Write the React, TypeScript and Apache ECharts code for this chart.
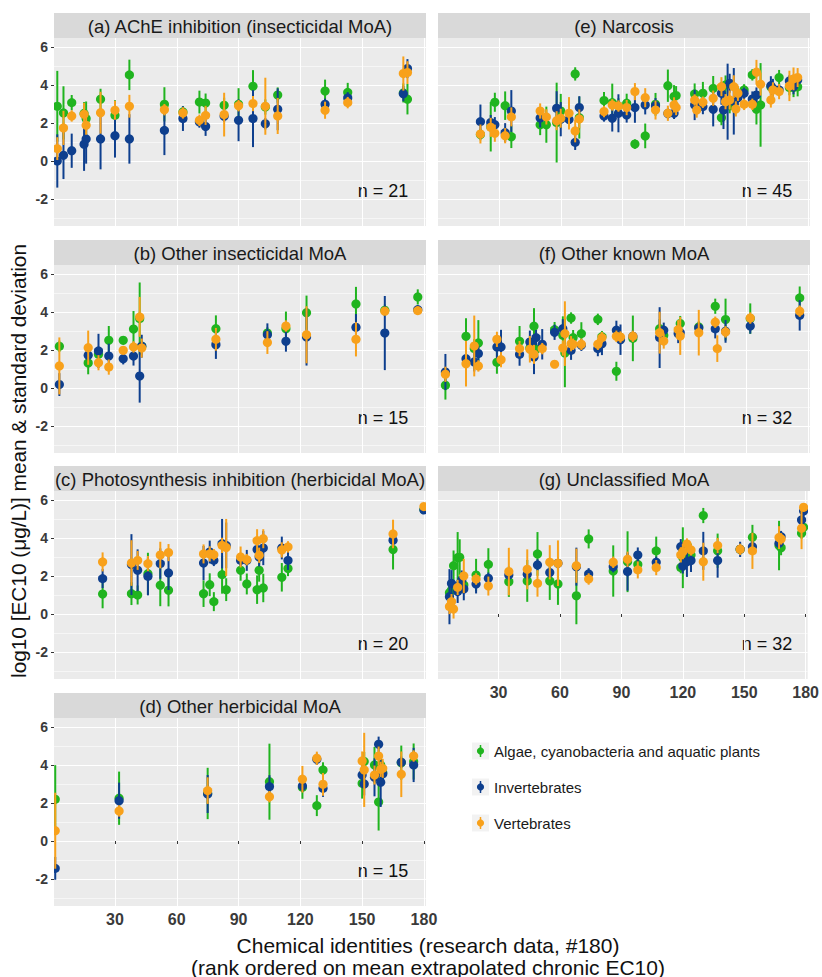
import React, { useEffect, useRef } from "react";
import * as echarts from "echarts";

// ---------------- data ----------------
const panelTitles = [
  "(a) AChE inhibition (insecticidal MoA)",
  "(b) Other insecticidal MoA",
  "(c) Photosynthesis inhibition (herbicidal MoA)",
  "(d) Other herbicidal MoA",
  "(e) Narcosis",
  "(f) Other known MoA",
  "(g) Unclassified MoA",
];
const panelN = [21, 15, 20, 15, 45, 32, 32];
const groupNames = ["Algae, cyanobacteria and aquatic plants", "Invertebrates", "Vertebrates"];

// (a)
const aRank = [2, 5, 9, 15, 16, 23, 30, 37, 54, 63, 71, 74, 83, 90, 97, 103, 109, 132, 143, 170, 172];
const aAlgMean = [2.88, 2.53, 3.07, 2.5, 2.23, 3.25, 2.4, 4.53, 2.98, 2.58, 3.1, 3.05, 2.93, 2.98, 3.93, 2.84, 3.47, 3.68, 3.61, 3.58, 3.25];
const aAlgSd = [1.86, 1.4, 0.4, 0.6, 0.9, 0.55, 0.8, 0.8, 0.9, 0.3, 0.6, 0.5, 0.4, 0.85, 0.85, 0.4, 0.4, 0.6, 0.5, 0.5, 0.8];
const aInvMean = [0.0, 0.3, 0.54, 0.88, 1.16, 1.16, 1.33, 1.16, 1.61, 2.23, 2.05, 1.82, 2.35, 2.14, 2.23, 1.96, 2.72, 2.98, 3.32, 3.54, 4.86];
const aInvSd = [1.4, 1.25, 0.9, 1.4, 1.3, 1.6, 1.15, 1.3, 1.3, 0.65, 0.3, 0.5, 0.3, 1.1, 1.5, 0.3, 1.1, 0.3, 0.3, 0.4, 0.5];
const aVerMean = [0.65, 1.74, 2.37, 2.46, 1.88, 2.54, 2.67, 2.88, 2.7, 2.53, 2.14, 2.4, 2.44, 2.91, 3.02, 2.88, 2.37, 2.67, 3.07, 4.6, 4.65];
const aVerSd = [0.6, 0.9, 0.3, 0.6, 0.5, 1.1, 0.5, 0.6, 0.3, 0.3, 0.3, 0.5, 1.15, 0.3, 0.4, 1.5, 0.95, 0.45, 0.3, 0.9, 0.6];

// (b)
const bRank = [3, 17, 22, 27, 34, 39, 42, 43, 79, 104, 113, 123, 147, 161, 177];
const bAlgMean = [2.19, 1.32, 1.77, 2.51, 2.51, 3.1, 3.65, 2.2, 3.12, 2.89, 3.12, 3.96, 4.42, 4.09, 4.79];
const bAlgSd = [0.3, 0.6, 0.3, 0.75, 0.2, 0.95, 1.9, 0.3, 0.7, 0.3, 0.9, 0.9, 0.9, 0.3, 0.4];
const bInvMean = [0.18, 1.72, 1.95, 1.68, 1.54, 1.68, 0.63, 2.2, 2.28, 2.8, 2.46, 2.68, 3.19, 2.89, 4.12];
const bInvSd = [0.6, 0.3, 0.9, 0.65, 0.3, 0.5, 1.4, 0.6, 0.75, 0.6, 0.55, 1.5, 0.7, 1.95, 0.2];
const bVerMean = [1.16, 2.12, 1.33, 1.1, 1.98, 2.16, 3.74, 2.1, 2.56, 2.39, 3.26, 2.8, 2.56, 4.04, 4.07];
const bVerSd = [1.5, 0.9, 0.4, 0.4, 0.2, 0.3, 1.05, 0.5, 0.6, 0.6, 0.3, 1.5, 0.9, 0.2, 0.2];

// (c)
const cRank = [24, 38, 41, 46, 52, 56, 73, 76, 78, 82, 84, 91, 94, 99, 100, 102, 111, 114, 165, 180];
const cAlgMean = [1.05, 1.07, 1.0, 2.12, 1.51, 1.25, 1.07, 1.54, 0.65, 2.07, 1.28, 2.3, 1.58, 1.28, 2.3, 1.37, 1.93, 2.39, 3.39, 5.5];
const cAlgSd = [0.75, 0.6, 0.5, 1.1, 1.1, 0.85, 0.7, 0.6, 0.5, 1.0, 0.6, 0.55, 0.55, 0.75, 0.6, 0.75, 0.75, 0.4, 1.05, 0.1];
const cInvMean = [1.86, 2.6, 2.3, 1.98, 2.65, 2.16, 2.68, 3.26, 2.82, 3.7, 3.61, 2.82, 2.82, 3.39, 3.0, 3.47, 3.47, 2.82, 3.88, 5.47];
const cInvSd = [0.5, 1.6, 1.1, 1.0, 0.8, 0.9, 0.9, 0.6, 0.3, 1.3, 1.2, 0.3, 0.55, 0.5, 0.5, 0.9, 0.6, 0.5, 0.4, 0.1];
const cVerMean = [2.74, 2.68, 2.82, 2.65, 3.1, 3.23, 3.16, 3.16, 3.12, 3.61, 3.5, 3.0, 2.86, 3.86, 3.09, 3.96, 3.37, 3.53, 4.21, 5.65];
const cVerSd = [0.5, 1.2, 0.5, 0.4, 0.7, 0.45, 0.5, 0.4, 0.3, 0.4, 1.5, 0.55, 0.3, 0.6, 0.4, 0.5, 0.4, 0.3, 0.75, 0.1];

// (d)
const dRank = [1, 32, 75, 105, 121, 128, 131, 150, 151, 156, 158, 159, 160, 169, 175];
const dAlgMean = [2.19, 2.25, 2.5, 3.12, 2.82, 1.86, 3.74, 3.03, 4.18, 4.0, 2.05, 4.0, 3.6, 4.12, 4.18];
const dAlgSd = [1.8, 1.4, 1.35, 2.0, 0.6, 0.55, 0.4, 0.8, 0.5, 0.95, 1.5, 0.6, 0.5, 0.9, 0.95];
const dInvMean = [-1.44, 2.12, 2.47, 2.86, 2.89, 4.3, 2.77, 3.47, 3.0, 3.35, 5.09, 3.09, 3.53, 4.14, 4.0];
const dInvSd = [0.6, 0.95, 1.0, 0.6, 0.3, 0.3, 0.45, 0.6, 0.6, 1.0, 0.4, 1.3, 0.5, 0.3, 0.9];
const dVerMean = [0.54, 1.58, 2.65, 2.33, 3.25, 4.35, 2.98, 4.21, 3.74, 3.47, 4.47, 3.77, 3.82, 3.51, 4.47];
const dVerSd = [2.0, 0.3, 0.7, 0.3, 0.7, 0.35, 0.6, 0.5, 1.95, 0.5, 0.5, 0.4, 0.5, 1.2, 0.3];

// (e)
const eRank = [21, 26, 28, 33, 36, 50, 53, 58, 60, 64, 67, 69, 81, 85, 88, 92, 96, 101, 106, 112, 115, 116, 125, 126, 129, 134, 138, 139, 140, 141, 142, 144, 145, 146, 149, 153, 155, 157, 162, 163, 166, 171, 173, 175];
const eAlgMean = [1.39, 1.8, 3.09, 2.91, 1.28, 1.91, 1.91, 2.02, 2.63, null, 4.58, 2.28, 3.18, 3.07, 2.9, 3.04, 0.89, 1.32, 2.98, 3.96, 3.39, 3.44, 3.53, null, 3.56, 3.82, 2.28, null, 4.0, null, 2.91, null, null, 3.5, 3.74, 4.53, 2.72, 2.95, 3.9, null, 4.39, 3.86, 3.86, 3.9];
const eAlgSd = [0.3, 1.3, 0.5, 0.75, 0.6, 0.55, 0.95, 2.1, 0.9, null, 0.35, 1.1, 0.45, 1.0, 0.4, 0.5, 0.25, 0.65, 0.6, 0.85, 0.6, 0.5, 0.55, null, 0.6, 0.65, 0.4, null, 0.5, null, 0.4, null, null, 0.4, 0.3, 0.3, 0.8, 2.2, 0.3, null, 0.4, 0.4, 0.5, 0.5];
const eInvMean = [2.07, 2.02, 1.91, 1.49, 2.63, 2.26, null, 2.77, 2.2, 2.18, 0.98, 2.81, 2.37, 2.25, 2.51, 2.42, 2.81, 2.95, 2.91, 2.5, 2.51, null, 2.95, null, 2.86, 2.72, 3.56, 2.68, null, 3.12, 4.09, 3.14, null, 3.33, 3.56, 3.26, 3.47, null, 3.96, 3.82, 3.74, 4.21, 3.91, 4.26];
const eInvSd = [0.9, 0.4, 0.4, 0.5, 1.1, 0.5, null, 0.9, 0.9, 0.5, 0.4, 0.6, 0.3, 0.7, 1.0, 0.4, 0.8, 0.5, 0.4, 0.3, 0.3, null, 0.8, null, 0.4, 0.9, 0.6, 1.0, null, 2.0, 0.5, 1.75, null, 0.4, 0.3, 0.4, 0.4, null, 0.5, 0.5, 0.3, 0.3, 0.4, 0.3];
const eVerMean = [1.42, 1.77, 1.46, 1.33, 2.32, 2.63, 2.32, 2.12, 2.25, 2.51, 1.58, 2.21, 2.6, 2.95, 2.89, 2.81, 3.65, 3.33, 2.68, 2.51, 2.95, 2.81, 3.21, 2.68, 3.09, 3.3, 3.91, null, 3.12, null, 3.21, 3.91, 2.74, 3.56, 2.98, 2.98, 4.67, 4.04, 3.21, 3.74, 3.65, 3.95, 4.32, 4.39];
const eVerSd = [0.5, 0.5, 0.45, 0.4, 0.5, 0.4, 0.4, 0.5, 0.5, 0.85, 0.6, 0.5, 0.3, 0.3, 0.3, 0.4, 0.45, 0.5, 0.5, 0.4, 0.4, 0.4, 0.3, 0.4, 0.3, 0.4, 0.5, null, 0.4, null, 0.5, 0.6, 0.4, 0.4, 0.3, 0.3, 0.65, 0.6, 0.4, 0.4, 0.4, 0.8, 0.6, 0.5];

// (f)
const fRank = [4, 14, 18, 20, 29, 31, 40, 45, 47, 48, 51, 57, 61, 62, 65, 66, 70, 78, 80, 87, 89, 95, 108, 110, 117, 118, 127, 135, 136, 140, 152, 176];
const fAlgMean = [0.14, 2.72, 2.07, 2.37, 1.35, null, 2.46, 2.1, 3.25, 2.04, null, 3.07, 2.77, 1.84, 3.68, 2.65, 2.86, 3.61, 2.7, 0.88, null, 2.61, 3.12, 2.77, null, 3.39, 3.21, 4.3, null, 3.6, 3.65, 4.74];
const fAlgSd = [0.75, 0.95, 0.5, 1.2, 0.6, null, 0.8, 0.5, 0.95, 0.6, null, 0.4, 1.0, 1.8, 0.3, 0.4, 0.6, 0.3, 0.3, 0.5, null, 1.2, 0.5, 0.4, null, 0.4, 0.3, 0.4, null, 1.1, 0.8, 0.6];
const fInvMean = [0.84, 1.54, 1.37, 1.81, 2.16, 2.16, 1.77, 2.42, 1.63, 2.65, 2.3, 2.93, 3.12, null, 1.98, null, 2.25, 2.07, 2.33, 3.04, 2.54, 2.72, 2.65, 3.04, 2.86, 2.91, 3.16, 3.11, null, 2.98, 3.26, 3.82];
const fInvSd = [0.95, 0.3, 0.5, 0.4, 0.6, 0.9, 0.6, 0.6, 0.9, 0.4, 0.8, 0.4, 0.5, null, 0.5, null, 0.3, 0.4, 0.6, 0.5, 0.8, 0.3, 1.6, 0.4, 0.5, 0.4, 0.3, 0.5, null, 0.6, 0.4, 0.8];
const fVerMean = [0.72, 1.28, 2.21, 1.16, 2.56, 1.49, 2.07, 2.04, 1.77, null, 2.07, 1.25, 2.1, 2.86, 2.33, 2.3, 2.3, 2.3, 2.65, 2.72, 2.68, 2.72, 2.91, 2.47, 3.07, 2.74, 2.91, 3.46, 2.07, 2.95, 3.68, 4.04];
const fVerSd = [0.4, 1.2, 1.6, 0.3, 0.4, 0.4, 0.4, 0.7, 0.5, null, 0.3, 0.2, 0.4, 1.7, 0.4, 0.3, 0.3, 0.3, 0.3, 0.3, 0.3, 0.3, 1.1, 0.4, 0.5, 1.0, 1.2, 0.3, 0.7, 0.3, 0.3, 0.3];

// (g)
const gRank = [6, 7, 8, 10, 11, 12, 13, 19, 25, 35, 44, 49, 55, 59, 68, 74, 86, 93, 98, 107, 119, 120, 122, 124, 130, 137, 148, 154, 167, 168, 178, 179];
const gAlgMean = [1.12, 1.26, 2.54, 2.96, 2.98, 1.61, 1.53, 2.05, 2.61, 1.7, 1.74, 3.16, 1.74, 1.58, 0.96, 3.95, 2.26, 2.75, 2.61, 3.32, 2.44, 2.96, null, 3.1, 5.18, 3.33, 3.4, 4.04, 3.6, 3.49, 4.25, 4.56];
const gAlgSd = [0.3, 0.3, 0.8, 1.35, 0.95, 0.4, 0.4, 0.85, 0.85, 0.8, 1.1, 1.15, 1.0, 1.1, 1.5, 0.5, 1.35, 1.6, 0.4, 0.75, 0.3, 1.6, null, 0.6, 0.4, 0.9, 0.3, 0.65, 1.3, 0.4, 0.3, 0.3];
const gInvMean = [0.91, 1.61, null, 1.18, 1.5, 1.79, 1.32, 1.58, 1.88, 2.05, 2.09, 2.58, 2.18, 2.67, 2.49, 2.11, 2.49, 2.23, 3.1, 2.72, 3.54, 2.53, 2.75, 2.81, 3.32, 2.81, 3.4, 3.54, 3.72, 4.07, 4.95, 5.42];
const gInvSd = [1.45, 0.7, null, 0.6, 0.5, 0.5, 0.6, 0.5, 0.3, 0.3, 0.3, 0.3, 0.3, 0.3, 1.0, 0.3, 0.3, 1.0, 0.4, 0.3, 0.4, 0.4, 0.8, 0.6, 1.0, 0.9, 0.4, 0.3, 0.3, 0.3, 0.3, 0.3];
const gVerMean = [0.39, 0.65, 0.26, 1.4, null, null, 2.0, 1.84, 1.47, 2.23, 2.35, 1.61, 2.72, 2.67, 2.54, 1.84, 2.72, 2.88, 2.32, 2.44, 3.11, 3.28, 3.68, 3.37, 2.75, 3.6, 3.4, 3.32, 4.02, 3.95, 4.51, 5.61];
const gVerSd = [0.4, 0.4, 0.5, 0.4, null, null, 0.9, 0.3, 0.5, 1.25, 1.05, 0.7, 0.9, 1.2, 0.9, 0.3, 0.3, 0.4, 0.45, 0.4, 0.4, 0.4, 0.3, 0.3, 1.0, 0.4, 0.3, 0.95, 0.6, 0.3, 1.1, 0.2];

const panelData = [
  [aRank, aAlgMean, aAlgSd, aInvMean, aInvSd, aVerMean, aVerSd],
  [bRank, bAlgMean, bAlgSd, bInvMean, bInvSd, bVerMean, bVerSd],
  [cRank, cAlgMean, cAlgSd, cInvMean, cInvSd, cVerMean, cVerSd],
  [dRank, dAlgMean, dAlgSd, dInvMean, dInvSd, dVerMean, dVerSd],
  [eRank, eAlgMean, eAlgSd, eInvMean, eInvSd, eVerMean, eVerSd],
  [fRank, fAlgMean, fAlgSd, fInvMean, fInvSd, fVerMean, fVerSd],
  [gRank, gAlgMean, gAlgSd, gInvMean, gInvSd, gVerMean, gVerSd],
];

// ---------------- layout / style ----------------
const GROUP_COLORS = ["#20B41F", "#0E3F8E", "#F8A11B"];
const FONT = '"Liberation Sans", Arial, Helvetica, sans-serif';
const NARROW = '"Liberation Sans Narrow", "Arial Narrow", "Liberation Sans", Arial, sans-serif';
const COL_X = [54, 438];
const STRIP_TOP = [13, 240, 466, 693];
const STRIP_H = 25;
const PLOT_W = 372;
const PLOT_H = 188;
const X_MIN = 0.4;
const X_MAX = 181;
const Y_MIN = -3.42;
const Y_MAX = 6.47;
const panelPos = [
  { col: 0, row: 0, bottom: false },
  { col: 0, row: 1, bottom: false },
  { col: 0, row: 2, bottom: false },
  { col: 0, row: 3, bottom: true },
  { col: 1, row: 0, bottom: false },
  { col: 1, row: 1, bottom: false },
  { col: 1, row: 2, bottom: true },
];

function triples(rank: number[], mean: (number | null)[], sd: (number | null)[]) {
  const out: number[][] = [];
  rank.forEach((r, i) => {
    if (mean[i] != null && sd[i] != null) out.push([r, mean[i] as number, sd[i] as number]);
  });
  return out;
}

function buildOption() {
  const grid: any[] = [];
  const xAxis: any[] = [];
  const yAxis: any[] = [];
  const series: any[] = [];
  const graphic: any[] = [];

  panelPos.forEach((p, i) => {
    const left = COL_X[p.col];
    const top = STRIP_TOP[p.row] + STRIP_H;
    grid.push({ left, top, width: PLOT_W, height: PLOT_H, show: true, backgroundColor: "#EBEBEB", borderWidth: 0 });
    xAxis.push({
      type: "value", gridIndex: i, min: X_MIN, max: X_MAX, minInterval: 30, maxInterval: 30,
      axisLine: { show: false },
      axisTick: { show: p.bottom, length: 3, lineStyle: { color: "#333333", width: 1 } },
      axisLabel: { show: p.bottom, showMinLabel: false, showMaxLabel: false, color: "#3A3A3A", fontWeight: "bold", fontSize: 16, fontFamily: NARROW, margin: 5 },
      splitLine: { show: true, showMinLine: false, showMaxLine: false, lineStyle: { color: "#FFFFFF", width: 1.1 } },
    });
    yAxis.push({
      type: "value", gridIndex: i, min: Y_MIN, max: Y_MAX, minInterval: 2, maxInterval: 2,
      axisLine: { show: false },
      axisTick: { show: p.col === 0, length: 3, lineStyle: { color: "#333333", width: 1 } },
      axisLabel: { show: p.col === 0, showMinLabel: false, showMaxLabel: false, color: "#3A3A3A", fontWeight: "bold", fontSize: 14, fontFamily: FONT, margin: 6 },
      splitLine: { show: true, showMinLine: false, showMaxLine: false, lineStyle: { color: "#FFFFFF", width: 1.1 } },
      minorTick: { show: false, splitNumber: 2 },
      minorSplitLine: { show: true, lineStyle: { color: "#FFFFFF", width: 0.55 } },
    });

    const d = panelData[i];
    for (let g = 0; g < 3; g++) {
      const color = GROUP_COLORS[g];
      series.push({
        type: "custom", name: groupNames[g], xAxisIndex: i, yAxisIndex: i, clip: true,
        encode: { x: 0, y: 1 },
        data: triples(d[0] as number[], d[1 + g * 2] as any, d[2 + g * 2] as any),
        renderItem: (params: any, api: any) => {
          const x = api.value(0), m = api.value(1), s = api.value(2);
          const c = api.coord([x, m]);
          const t = api.coord([x, m + s]);
          const b = api.coord([x, m - s]);
          return {
            type: "group",
            children: [
              { type: "line", shape: { x1: t[0], y1: t[1], x2: b[0], y2: b[1] }, style: { stroke: color, lineWidth: 2 } },
              { type: "circle", shape: { cx: c[0], cy: c[1], r: 4.6 }, style: { fill: color } },
            ],
          };
        },
      });
    }

    // strip
    graphic.push({ type: "rect", shape: { x: left, y: STRIP_TOP[p.row], width: PLOT_W, height: STRIP_H }, style: { fill: "#D9D9D9" }, silent: true });
    graphic.push({ type: "text", x: left + PLOT_W / 2, y: STRIP_TOP[p.row] + STRIP_H / 2 + 1, style: { text: panelTitles[i], fill: "#1A1A1A", font: `18.5px ${FONT}`, textAlign: "center", textVerticalAlign: "middle" }, silent: true });
    // n label
    graphic.push({ type: "text", x: left + 329, y: top + 153, style: { text: `n = ${panelN[i]}`, fill: "#111111", font: `18px ${FONT}`, textAlign: "center", textVerticalAlign: "middle" }, silent: true });
  });

  // axis titles
  graphic.push({ type: "text", x: 18, y: 461, rotation: Math.PI / 2, style: { text: "log10 [EC10 (μg/L)] mean & standard deviation", fill: "#111111", font: `20.8px ${FONT}`, textAlign: "center", textVerticalAlign: "middle" }, silent: true });
  graphic.push({ type: "text", x: 428, y: 945, style: { text: "Chemical identities (research data, #180)", fill: "#111111", font: `21px ${FONT}`, textAlign: "center", textVerticalAlign: "middle" }, silent: true });
  graphic.push({ type: "text", x: 428, y: 967, style: { text: "(rank ordered on mean extrapolated chronic EC10)", fill: "#111111", font: `21px ${FONT}`, textAlign: "center", textVerticalAlign: "middle" }, silent: true });

  // legend
  const legY = [751, 787, 823];
  groupNames.forEach((name, g) => {
    const cy = legY[g];
    graphic.push({ type: "rect", shape: { x: 472, y: cy - 8.5, width: 17, height: 17 }, style: { fill: "#F2F2F2" }, silent: true });
    graphic.push({ type: "line", shape: { x1: 480.5, y1: cy - 6, x2: 480.5, y2: cy + 6 }, style: { stroke: GROUP_COLORS[g], lineWidth: 1.5 }, silent: true });
    graphic.push({ type: "circle", shape: { cx: 480.5, cy, r: 3.6 }, style: { fill: GROUP_COLORS[g] }, silent: true });
    graphic.push({ type: "text", x: 494, y: cy, style: { text: name, fill: "#1A1A1A", font: `15px ${FONT}`, textAlign: "left", textVerticalAlign: "middle" }, silent: true });
  });

  return { animation: false, backgroundColor: "#FFFFFF", grid, xAxis, yAxis, series, graphic };
}

export default function App() {
  const ref = useRef<HTMLDivElement>(null);
  useEffect(() => {
    if (!ref.current) return;
    const chart = echarts.init(ref.current, undefined, { renderer: "svg" });
    chart.setOption(buildOption() as any);
    return () => chart.dispose();
  }, []);
  return <div ref={ref} style={{ position: "absolute", left: 0, top: 0, width: 822, height: 977, background: "#fff" }} />;
}
